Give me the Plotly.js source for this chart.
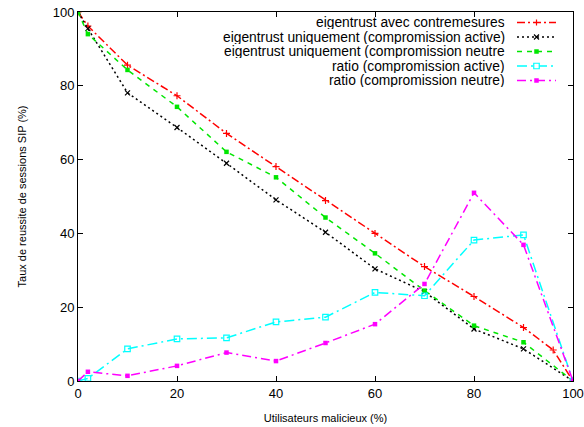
<!DOCTYPE html>
<html>
<head>
<meta charset="utf-8">
<script src="https://cdn.plot.ly/plotly-3.0.1.min.js"></script>
<style>html,body{margin:0;padding:0;background:#fff;}#chart{width:584px;height:427px;}</style>
</head>
<body>
<div id="chart"></div>
<script>
// ---- data ----
const seriesNames = [
  "eigentrust avec contremesures",
  "eigentrust uniquement (compromission active)",
  "eigentrust uniquement (compromission neutre",
  "ratio (compromission active)",
  "ratio (compromission neutre)"
];
const xCounter = [0, 2, 10, 20, 30, 40, 50, 60, 70, 80, 90, 96, 100];
const yCounter = [100, 96.2, 85.6, 77.3, 67.1, 58.1, 48.9, 40.0, 31.0, 22.9, 14.5, 8.4, 0];
const xMal = [0, 2, 10, 20, 30, 40, 50, 60, 70, 80, 90, 100];
const yEigenActive = [100, 95.5, 78.1, 68.7, 59.0, 49.1, 40.3, 30.4, 24.2, 14.1, 8.7, 0];
const yEigenNeutral = [100, 94.0, 84.3, 74.3, 62.1, 55.2, 44.3, 34.6, 24.5, 15.0, 10.5, 0];
const yRatioActive = [0, 0.7, 8.7, 11.4, 11.7, 16.0, 17.3, 24.0, 23.1, 38.2, 39.6, 0];
const yRatioNeutral = [0, 2.5, 1.4, 4.1, 7.7, 5.4, 10.3, 15.4, 26.3, 51.0, 36.9, 0];
const xTicks = [0, 20, 40, 60, 80, 100];
const yTicks = [0, 20, 40, 60, 80, 100];

// ---- styles ----
const colors = ["#ff0000", "#000000", "#00e600", "#00ffff", "#ff00ff"];
const dashes = ["8px,3px,2px,3px", "2px,3px", "5px,5px", "10px,4px,2px,4px", "9px,4px,2px,4px"];

const traces = [
  {x: xCounter, y: yCounter, mode: "lines+markers", name: seriesNames[0],
   line: {color: colors[0], width: 1.5, dash: dashes[0]},
   marker: {symbol: "cross-thin", size: 5, color: colors[0], line: {color: colors[0], width: 1.2}}},
  {x: xMal, y: yEigenActive, mode: "lines+markers", name: seriesNames[1],
   line: {color: colors[1], width: 1.5, dash: dashes[1]},
   marker: {symbol: "x-thin", size: 5, color: colors[1], line: {color: colors[1], width: 1.2}}},
  {x: xMal, y: yEigenNeutral, mode: "lines+markers", name: seriesNames[2],
   line: {color: colors[2], width: 1.5, dash: dashes[2]},
   marker: {symbol: "square", size: 4.5, color: colors[2]}},
  {x: xMal, y: yRatioActive, mode: "lines+markers", name: seriesNames[3],
   line: {color: colors[3], width: 1.5, dash: dashes[3]},
   marker: {symbol: "square-open", size: 5.5, color: colors[3], line: {color: colors[3], width: 1.2}}},
  {x: xMal, y: yRatioNeutral, mode: "lines+markers", name: seriesNames[4],
   line: {color: colors[4], width: 1.5, dash: dashes[4]},
   marker: {symbol: "square", size: 4.5, color: colors[4]}}
];

// ---- custom gnuplot-style legend (text left, sample right) ----
const W = 584, H = 427, mL = 78, mR = 11, mT = 12, mB = 46;
const pw = W - mL - mR, ph = H - mT - mB;
const px = p => (p - mL) / pw;
const py = p => (H - mB - p) / ph;
const legendRowsPx = [22.5, 37, 51.5, 66, 80.5];
const textRightPx = 506, lineStartPx = 517, lineEndPx = 556, markPx = 536.5;

const annotations = [];
const shapes = [];
const markerPaths = [
  "M-3,0H3M0,-3V3",
  "M-2.5,-2.5L2.5,2.5M-2.5,2.5L2.5,-2.5",
  null, null, null
];
seriesNames.forEach((name, i) => {
  const yy = py(legendRowsPx[i]);
  annotations.push({xref: "paper", yref: "paper", x: px(textRightPx), y: yy,
    xanchor: "right", yanchor: "middle", text: name, showarrow: false,
    height: 14, borderpad: 0, valign: "middle",
    font: {family: "Liberation Sans, Arial, sans-serif", size: 13.8, color: "#000"}});
  shapes.push({type: "line", xref: "paper", yref: "paper",
    x0: px(lineStartPx), x1: px(lineEndPx), y0: yy, y1: yy,
    line: {color: colors[i], width: 1.5, dash: dashes[i]}});
  if (markerPaths[i]) {
    shapes.push({type: "path", xref: "paper", yref: "paper", xsizemode: "pixel", ysizemode: "pixel",
      xanchor: px(markPx), yanchor: yy, path: markerPaths[i],
      line: {color: colors[i], width: 1.2}});
  } else {
    const open = i === 3;
    const s = open ? 2.75 : 2.25;
    shapes.push({type: "rect", xref: "paper", yref: "paper", xsizemode: "pixel", ysizemode: "pixel",
      xanchor: px(markPx), yanchor: yy, x0: -s, x1: s, y0: -s, y1: s,
      fillcolor: open ? "#ffffff" : colors[i], line: {color: colors[i], width: open ? 1.2 : 0}});
  }
});

const axisFont = {family: "Liberation Sans, Arial, sans-serif", size: 13, color: "#000"};
const layout = {
  width: W, height: H,
  margin: {l: mL, r: mR, t: mT, b: mB},
  paper_bgcolor: "#fff", plot_bgcolor: "#fff",
  showlegend: false,
  font: {family: "Liberation Sans, Arial, sans-serif", color: "#000"},
  xaxis: {range: [0, 100], tickvals: xTicks, ticktext: xTicks.map(String),
    ticks: "inside", ticklen: 5, tickcolor: "#000", showline: true, linecolor: "#000", linewidth: 1,
    mirror: "allticks", showgrid: false, zeroline: false, tickfont: axisFont,
    title: {text: "Utilisateurs malicieux (%)", font: {family: "Liberation Sans, Arial, sans-serif", size: 11, color: "#000"}, standoff: 14}},
  yaxis: {range: [0, 100], tickvals: yTicks, ticktext: yTicks.map(String),
    ticks: "inside", ticklen: 5, tickcolor: "#000", showline: true, linecolor: "#000", linewidth: 1,
    mirror: "allticks", showgrid: false, zeroline: false, tickfont: axisFont,
    title: {text: "Taux de reussite de sessions SIP (%)", font: {family: "Liberation Sans, Arial, sans-serif", size: 11, color: "#000"}, standoff: 23}},
  annotations: annotations,
  shapes: shapes
};

Plotly.newPlot("chart", traces, layout, {displayModeBar: false, staticPlot: true});
</script>
</body>
</html>
